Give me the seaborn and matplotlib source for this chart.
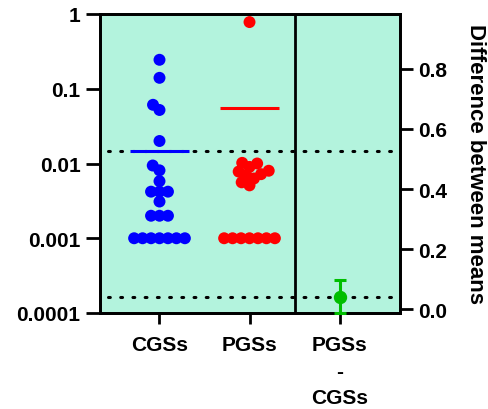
import numpy as np
import pandas as pd
import matplotlib
matplotlib.use("Agg")
import matplotlib.pyplot as plt
from matplotlib.ticker import NullLocator
import seaborn as sns

# ---------------- data ----------------
categories = ["CGSs", "PGSs", "PGSs\n-\nCGSs"]
cgs_values = [0.244, 0.14, 0.061, 0.052, 0.02, 0.0094, 0.0081, 0.0058,
              0.0042, 0.0042, 0.0042, 0.0031, 0.002, 0.002, 0.002,
              0.001, 0.001, 0.001, 0.001, 0.001, 0.001, 0.001]
pgs_values = [0.78, 0.0102, 0.0100, 0.0090, 0.0080, 0.0078, 0.0072, 0.0070,
              0.0063, 0.0056, 0.0051,
              0.001, 0.001, 0.001, 0.001, 0.001, 0.001, 0.001]
group_means = [0.0145, 0.0558]
diff_mean = [0.041]
diff_ci_low = [-0.012]
diff_ci_high = [0.097]
left_ticks = [0.0001, 0.001, 0.01, 0.1, 1]
left_tick_labels = ["0.0001", "0.001", "0.01", "0.1", "1"]
right_ticks = [0.0, 0.2, 0.4, 0.6, 0.8]
right_tick_labels = ["0.0", "0.2", "0.4", "0.6", "0.8"]
colors = {"CGSs": "#0000FF", "PGSs": "#FF0000"}
diff_color = "#00BE00"

# ---------------- style ----------------
sns.set_theme(style="ticks")
plt.rcParams["font.family"] = ["Liberation Sans", "DejaVu Sans"]
plt.rcParams["font.weight"] = "bold"
plt.rcParams["text.color"] = "black"
plt.rcParams["axes.labelcolor"] = "black"
plt.rcParams["xtick.color"] = "black"
plt.rcParams["ytick.color"] = "black"
plt.rcParams["axes.edgecolor"] = "black"

fig = plt.figure(figsize=(4.88, 4.10), dpi=100)
ax = fig.add_axes([100 / 488, 1 - 314 / 410, 300 / 488, 299 / 410])
ax.set_facecolor("#B3F3DD")

df = pd.DataFrame({
    "group": ["CGSs"] * len(cgs_values) + ["PGSs"] * len(pgs_values),
    "value": cgs_values + pgs_values,
})

# swarm laid out with a smaller collision size; markers enlarged afterwards
sns.swarmplot(data=df, x="group", y="value", hue="group", order=categories,
              hue_order=["CGSs", "PGSs"], palette=colors, size=5.8,
              linewidth=0, log_scale=True, legend=False, ax=ax, zorder=3)
swarm_colls = list(ax.collections)

# mean lines
for i, m in enumerate(group_means):
    ax.hlines(m, i - 0.333, i + 0.333, color=list(colors.values())[i], lw=2.2, zorder=4)

ax.set_xlim(-0.661, 2.672)
ax.set_ylim(1e-4, 1)
ax.set_yticks(left_ticks, left_tick_labels)
ax.yaxis.set_minor_locator(NullLocator())
ax.axhline(group_means[0], xmin=0.027, xmax=1, color="black", lw=2.2,
           ls=(0, (0.6, 3.4)), dash_capstyle="round", zorder=2)
ax.axvline(1.5, color="black", lw=2, zorder=5)

ax.set_xlabel("")
ax.set_ylabel("")
ax.tick_params(axis="y", length=10, width=2, labelsize=15, pad=4)
ax.tick_params(axis="x", length=8, width=2, labelsize=15, pad=8)
for lab in ax.get_xticklabels():
    lab.set_linespacing(1.5)
for s in ax.spines.values():
    s.set_linewidth(2)
    s.set_color("black")

# right axis: difference between means
ax2 = ax.twinx()
ax2.set_ylim(-0.013, 0.983)
ax2.axhline(diff_mean[0], xmin=0.027, xmax=1, color="black", lw=2.2,
            ls=(0, (0.6, 3.4)), dash_capstyle="round", zorder=2)
yerr = [[diff_mean[0] - diff_ci_low[0]], [diff_ci_high[0] - diff_mean[0]]]
ax2.errorbar([2], diff_mean, yerr=yerr, fmt="o", color=diff_color, ms=8.6,
             capsize=4, elinewidth=2.2, capthick=2.2, clip_on=False, zorder=4)
ax2.set_yticks(right_ticks, right_tick_labels)
ax2.tick_params(axis="y", length=9, width=2, labelsize=15, pad=4)
ax2.set_ylabel("Difference between means", rotation=270, fontsize=16,
               fontweight="bold", va="center", ha="center")
ax2.yaxis.set_label_coords(1.2517, 0.5)
for s in ax2.spines.values():
    s.set_linewidth(2)
    s.set_color("black")
ax.set_xlim(-0.661, 2.672)

# compute the swarm layout once, then freeze it and enlarge the markers
fig.canvas.draw()
for coll in swarm_colls:
    if "draw" in coll.__dict__:
        del coll.draw
    coll.set_sizes([8.6 ** 2])

fig.savefig("out.png", dpi=100)
